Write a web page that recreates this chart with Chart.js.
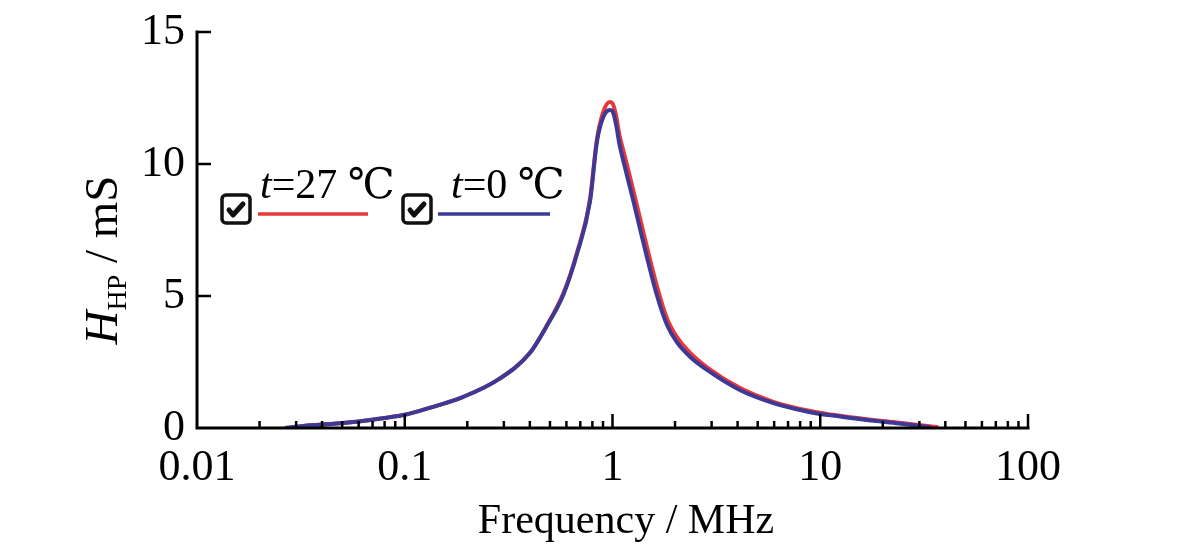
<!DOCTYPE html>
<html>
<head>
<meta charset="utf-8">
<script src="https://cdn.jsdelivr.net/npm/chart.js@4.4.0/dist/chart.umd.min.js"></script>
<style>
  html, body { margin: 0; padding: 0; background: #fff; }
</style>
</head>
<body>
<canvas id="hpChart" width="1200" height="554"></canvas>
<script>
// data (frequency in MHz, H_HP in mS)
var freq0 = [0.0265, 0.035, 0.044, 0.06, 0.08, 0.1, 0.13, 0.19, 0.28, 0.40, 0.48, 0.58, 0.675, 0.78, 0.84, 0.90, 0.97, 1.00, 1.04, 1.08, 1.15, 1.26, 1.40, 1.64, 1.83, 2.04, 2.36, 2.85, 4.1, 5.9, 8.0, 9.65, 11.5, 16.8, 24, 34];
var hp0 = [0, 0.1, 0.15, 0.25, 0.38, 0.5, 0.75, 1.17, 1.82, 2.84, 3.83, 5.05, 6.6, 8.6, 10.8, 11.75, 12.05, 12.0, 11.5, 10.75, 9.85, 8.6, 7.1, 5.0, 3.9, 3.25, 2.7, 2.2, 1.44, 0.95, 0.68, 0.55, 0.47, 0.3, 0.17, 0.03];

var freq27 = [0.028, 0.035, 0.044, 0.06, 0.08, 0.1, 0.13, 0.19, 0.28, 0.40, 0.48, 0.58, 0.675, 0.78, 0.84, 0.90, 0.97, 1.00, 1.04, 1.08, 1.15, 1.26, 1.40, 1.64, 1.83, 2.04, 2.36, 2.85, 4.1, 5.9, 8.0, 9.65, 11.5, 16.8, 24, 37];
var hp27 = [0, 0.1, 0.15, 0.25, 0.38, 0.5, 0.75, 1.17, 1.82, 2.84, 3.85, 5.1, 6.65, 8.7, 10.9, 11.95, 12.35, 12.3, 11.85, 11.1, 10.25, 9.0, 7.5, 5.35, 4.15, 3.45, 2.85, 2.3, 1.52, 1.0, 0.72, 0.6, 0.5, 0.33, 0.2, 0.03];

var xTicks = [0.01, 0.1, 1, 10, 100];
var xTickLabels = ['0.01', '0.1', '1', '10', '100'];
var yTicks = [0, 5, 10, 15];

var seriesNames = ['t=27 ℃', 't=0 ℃'];
var red = '#e8383a';
var blue = '#3c3a96';

var serif = '"Liberation Serif", "DejaVu Serif", serif';

function toPoints(xs, ys) {
    return xs.map(function(x, i) { return {x: x, y: ys[i]}; });
}

// axis lines, inside ticks, y title, x title and the legend
var decorPlugin = {
    id: 'decor',
    afterDraw: function(chart) {
        var ctx = chart.ctx;
        var xs = chart.scales.x, ys = chart.scales.y;
        var area = chart.chartArea;
        ctx.save();
        ctx.strokeStyle = '#000';
        ctx.lineWidth = 3;
        ctx.lineCap = 'square';
        ctx.beginPath();
        ctx.moveTo(area.left, area.top);
        ctx.lineTo(area.left, area.bottom);
        ctx.lineTo(area.right, area.bottom);
        ctx.stroke();

        ctx.lineWidth = 2.5;
        ctx.lineCap = 'butt';
        // x ticks, majors and minors pointing up
        for (var d = 0; d < xTicks.length; d++) {
            var px = xs.getPixelForValue(xTicks[d]);
            if (d > 0) {
                ctx.beginPath();
                ctx.moveTo(px, area.bottom);
                ctx.lineTo(px, area.bottom - 14);
                ctx.stroke();
            }
            if (d < xTicks.length - 1) {
                for (var m = 2; m <= 9; m++) {
                    var mx = xs.getPixelForValue(xTicks[d] * m);
                    ctx.beginPath();
                    ctx.moveTo(mx, area.bottom);
                    ctx.lineTo(mx, area.bottom - 7);
                    ctx.stroke();
                }
            }
        }
        // y ticks pointing right
        yTicks.forEach(function(v) {
            if (v === 0) return;
            var py = ys.getPixelForValue(v);
            ctx.beginPath();
            ctx.moveTo(area.left, py);
            ctx.lineTo(area.left + 14, py);
            ctx.stroke();
        });

        ctx.fillStyle = '#000';
        // x title
        ctx.font = '42px ' + serif;
        ctx.textAlign = 'center';
        ctx.textBaseline = 'middle';
        ctx.fillText('Frequency / MHz', 626, 522);

        // y title: H_HP / mS, rotated
        ctx.save();
        ctx.translate(101, 260);
        ctx.rotate(-Math.PI / 2);
        ctx.textAlign = 'left';
        ctx.textBaseline = 'alphabetic';
        var fBig = 'italic 47px ' + serif;
        var fSub = '28px ' + serif;
        var fRest = '47px ' + serif;
        ctx.font = fBig; var w1 = ctx.measureText('H').width;
        ctx.font = fSub; var w2 = ctx.measureText('HP').width;
        ctx.font = fRest; var w3 = ctx.measureText(' / mS').width;
        var sx = -(w1 + w2 + w3) / 2;
        ctx.font = fBig; ctx.fillText('H', sx, 16);
        ctx.font = fSub; ctx.fillText('HP', sx + w1, 25);
        ctx.font = fRest; ctx.fillText(' / mS', sx + w1 + w2, 16);
        ctx.restore();

        // legend
        var items = [
            {box: 222, text: 260, line: [258, 368], color: red, label: seriesNames[0]},
            {box: 403, text: 451, line: [438, 550], color: blue, label: seriesNames[1]}
        ];
        items.forEach(function(it) {
            drawCheck(ctx, it.box, 195, 28);
            ctx.font = 'italic 42px ' + serif;
            ctx.textAlign = 'left';
            ctx.textBaseline = 'alphabetic';
            ctx.fillStyle = '#000';
            ctx.fillText('t', it.text, 198);
            var tw = ctx.measureText('t').width;
            ctx.font = '42px ' + serif;
            ctx.fillText(it.label.substring(1), it.text + tw, 198);
            ctx.strokeStyle = it.color;
            ctx.lineWidth = 3.5;
            ctx.beginPath();
            ctx.moveTo(it.line[0], 214);
            ctx.lineTo(it.line[1], 214);
            ctx.stroke();
        });
        ctx.restore();
    }
};

function drawCheck(ctx, x, y, s) {
    ctx.save();
    ctx.fillStyle = '#fff';
    ctx.strokeStyle = '#111';
    ctx.lineWidth = 3.5;
    ctx.beginPath();
    ctx.roundRect(x, y, s, s, 4);
    ctx.fill();
    ctx.stroke();
    ctx.lineWidth = 5;
    ctx.lineCap = 'round';
    ctx.lineJoin = 'round';
    ctx.beginPath();
    ctx.moveTo(x + 7, y + 15);
    ctx.lineTo(x + 11, y + 20);
    ctx.lineTo(x + 21, y + 9);
    ctx.stroke();
    ctx.restore();
}

var hpChart = new Chart(document.getElementById('hpChart'), {
    type: 'line',
    data: {
        datasets: [{
            label: seriesNames[1],
            data: toPoints(freq0, hp0),
            borderColor: blue,
            borderWidth: 4,
            pointRadius: 0,
            cubicInterpolationMode: 'monotone',
            fill: false
        },
        {
            label: seriesNames[0],
            data: toPoints(freq27, hp27),
            borderColor: red,
            borderWidth: 4,
            pointRadius: 0,
            cubicInterpolationMode: 'monotone',
            fill: false
        }]
    },
    options: {
        responsive: false,
        animation: false,
        devicePixelRatio: 1,
        layout: {
            padding: {left: 0, top: 32, right: 172, bottom: 0}
        },
        plugins: {
            legend: { display: false },
            tooltip: { enabled: false }
        },
        scales: {
            x: {
                type: 'logarithmic',
                min: 0.01,
                max: 100,
                grid: { display: false, drawTicks: false },
                border: { display: false },
                afterBuildTicks: function(scale) {
                    scale.ticks = xTicks.map(function(v) { return {value: v}; });
                },
                afterFit: function(scale) {
                    scale.height = 126;
                    scale.paddingLeft = 0;
                    scale.paddingRight = 0;
                },
                ticks: {
                    autoSkip: false,
                    maxRotation: 0,
                    padding: 14,
                    color: '#000',
                    font: { family: serif, size: 44 },
                    callback: function(value) {
                        var i = xTicks.indexOf(value);
                        return i >= 0 ? xTickLabels[i] : '';
                    }
                }
            },
            y: {
                min: 0,
                max: 15,
                grid: { display: false, drawTicks: false },
                border: { display: false },
                afterBuildTicks: function(scale) {
                    scale.ticks = yTicks.map(function(v) { return {value: v}; });
                },
                afterFit: function(scale) {
                    scale.width = 197;
                    scale.paddingTop = 0;
                    scale.paddingBottom = 0;
                },
                ticks: {
                    padding: 12,
                    color: '#000',
                    font: { family: serif, size: 44 }
                }
            }
        }
    },
    plugins: [decorPlugin]
});
</script>
</body>
</html>
